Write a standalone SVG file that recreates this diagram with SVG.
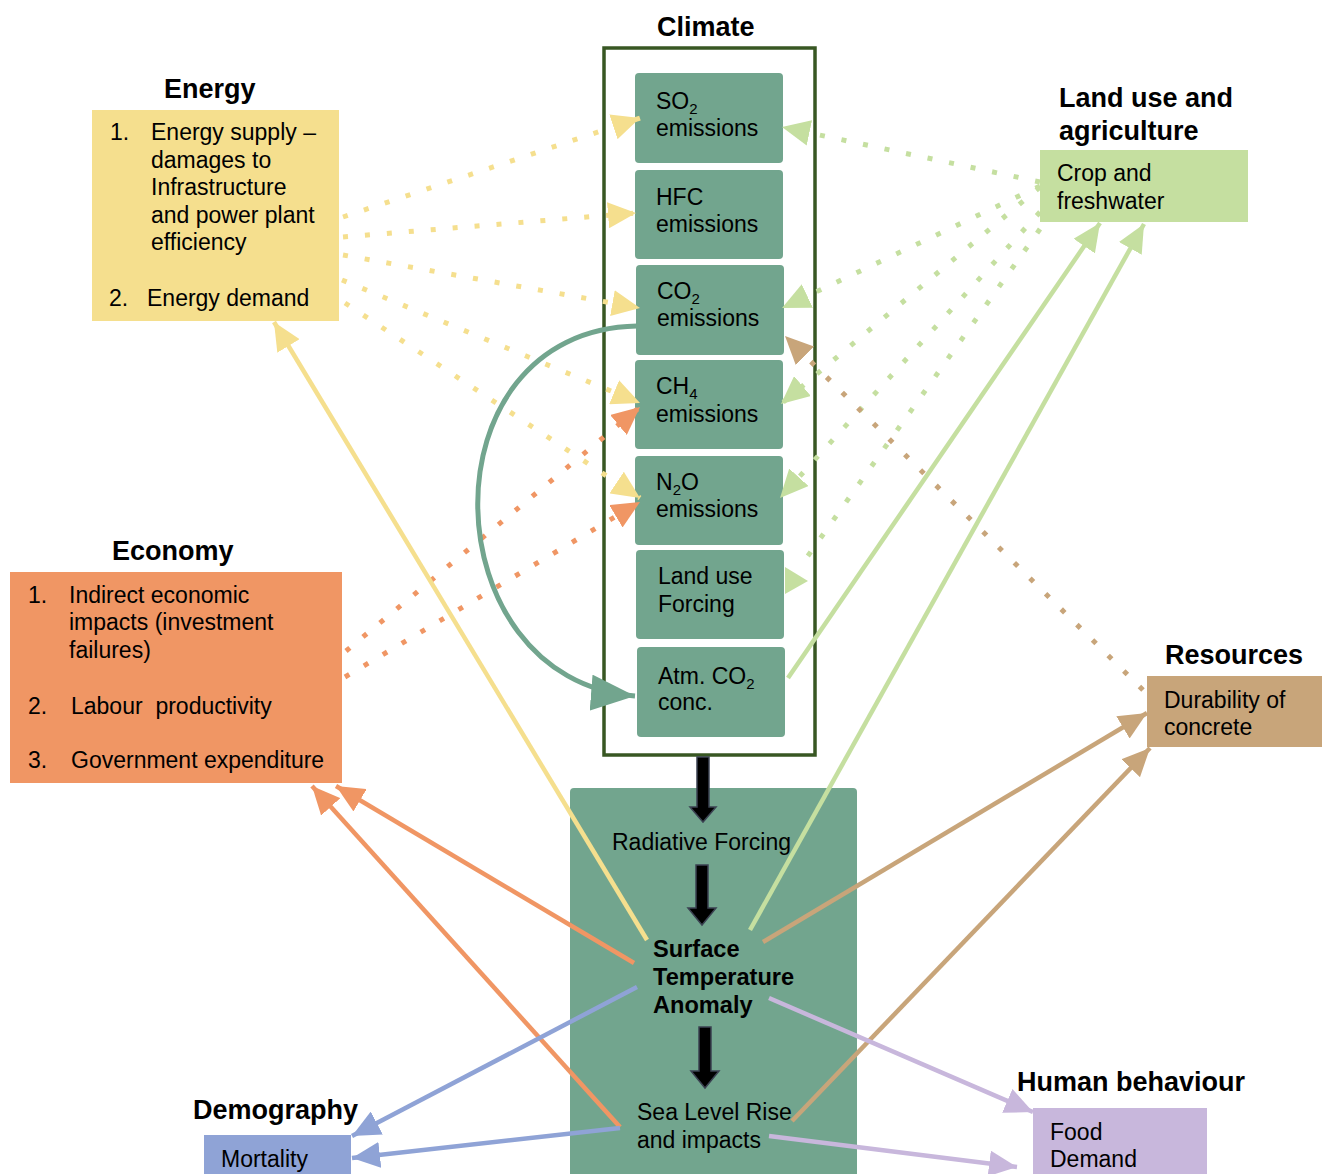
<svg xmlns="http://www.w3.org/2000/svg" width="1322" height="1174" viewBox="0 0 1322 1174">
<style>
text{font-family:"Liberation Sans",Arial,sans-serif;fill:#000}
.t{font-size:27px;font-weight:bold}
.b{font-size:23px}
.bb{font-size:23.6px;font-weight:bold}
.sub{font-size:15px}
.em{fill:#72a58e}
.dot{fill:none;stroke-width:5;stroke-dasharray:5 17}
.sol{fill:none;stroke-width:4.5}
.y{stroke:#f5df8e}.o{stroke:#f09664}.g{stroke:#c5dfa0}.br{stroke:#c8a57a}.bl{stroke:#8fa3d6}.p{stroke:#c8b7dc}
.blk{fill:#000;stroke:#3b4252;stroke-width:1.5}
</style>
<defs>
<marker id="dy" markerUnits="userSpaceOnUse" markerWidth="28" markerHeight="26" refX="28" refY="13" orient="auto"><path d="M0,0 L28,13 L0,26 z" fill="#f5df8e"/></marker>
<marker id="do" markerUnits="userSpaceOnUse" markerWidth="28" markerHeight="26" refX="28" refY="13" orient="auto"><path d="M0,0 L28,13 L0,26 z" fill="#f09664"/></marker>
<marker id="dg" markerUnits="userSpaceOnUse" markerWidth="28" markerHeight="26" refX="28" refY="13" orient="auto"><path d="M0,0 L28,13 L0,26 z" fill="#c5dfa0"/></marker>
<marker id="dbr" markerUnits="userSpaceOnUse" markerWidth="28" markerHeight="26" refX="28" refY="13" orient="auto"><path d="M0,0 L28,13 L0,26 z" fill="#c8a57a"/></marker>
<marker id="sy" markerUnits="userSpaceOnUse" markerWidth="28" markerHeight="26" refX="28" refY="13" orient="auto"><path d="M0,0 L28,13 L0,26 z" fill="#f5df8e"/></marker>
<marker id="sg" markerUnits="userSpaceOnUse" markerWidth="28" markerHeight="26" refX="28" refY="13" orient="auto"><path d="M0,0 L28,13 L0,26 z" fill="#c5dfa0"/></marker>
<marker id="so" markerUnits="userSpaceOnUse" markerWidth="28" markerHeight="26" refX="28" refY="13" orient="auto"><path d="M0,0 L28,13 L0,26 z" fill="#f09664"/></marker>
<marker id="sbr" markerUnits="userSpaceOnUse" markerWidth="28" markerHeight="26" refX="28" refY="13" orient="auto"><path d="M0,0 L28,13 L0,26 z" fill="#c8a57a"/></marker>
<marker id="sbl" markerUnits="userSpaceOnUse" markerWidth="28" markerHeight="26" refX="28" refY="13" orient="auto"><path d="M0,0 L28,13 L0,26 z" fill="#8fa3d6"/></marker>
<marker id="sp" markerUnits="userSpaceOnUse" markerWidth="28" markerHeight="26" refX="28" refY="13" orient="auto"><path d="M0,0 L28,13 L0,26 z" fill="#c8b7dc"/></marker>
<marker id="mt" markerUnits="userSpaceOnUse" markerWidth="44" markerHeight="36" refX="44" refY="18" orient="auto"><path d="M0,0 L44,18 L0,36 z" fill="#72a58e"/></marker>
</defs>
<rect width="1322" height="1174" fill="#fff"/>

<g id="climate">
<text class="t" x="657" y="36">Climate</text>
<rect x="604" y="48" width="211" height="707" fill="none" stroke="#385723" stroke-width="3.5"/>
</g>
<g id="so2"><rect class="em" x="635" y="73" width="148" height="90" rx="4"/><text class="b" x="656" y="109">SO<tspan class="sub" dy="5">2</tspan></text><text class="b" x="656" y="136">emissions</text></g>
<g id="hfc"><rect class="em" x="635" y="170" width="148" height="89" rx="4"/><text class="b" x="656" y="205">HFC</text><text class="b" x="656" y="232">emissions</text></g>
<g id="co2"><rect class="em" x="636" y="265" width="148" height="90" rx="4"/><text class="b" x="657" y="299">CO<tspan class="sub" dy="5">2</tspan></text><text class="b" x="657" y="326">emissions</text></g>
<g id="ch4"><rect class="em" x="635" y="360" width="148" height="89" rx="4"/><text class="b" x="656" y="394">CH<tspan class="sub" dy="5">4</tspan></text><text class="b" x="656" y="422">emissions</text></g>
<g id="n2o"><rect class="em" x="635" y="456" width="148" height="89" rx="4"/><text class="b" x="656" y="490">N<tspan class="sub" dy="5">2</tspan><tspan dy="-5">O</tspan></text><text class="b" x="656" y="517">emissions</text></g>
<g id="landuse"><rect class="em" x="636" y="550" width="148" height="89" rx="4"/><text class="b" x="658" y="584">Land use</text><text class="b" x="658" y="612">Forcing</text></g>
<g id="atmco2"><rect class="em" x="637" y="647" width="148" height="90" rx="4"/><text class="b" x="658" y="684">Atm. CO<tspan class="sub" dy="5">2</tspan></text><text class="b" x="658" y="710">conc.</text></g>

<g id="energy">
<text class="t" x="164" y="98">Energy</text>
<rect x="92" y="110" width="247" height="211" fill="#f5df8e"/>
<text class="b" x="110" y="140">1.</text>
<text class="b" x="151" y="140">Energy supply –</text>
<text class="b" x="151" y="168">damages to</text>
<text class="b" x="151" y="195">Infrastructure</text>
<text class="b" x="151" y="223">and power plant</text>
<text class="b" x="151" y="250">efficiency</text>
<text class="b" x="109" y="306">2.</text>
<text class="b" x="147" y="306">Energy demand</text>
</g>

<g id="landagri">
<text class="t" x="1059" y="107">Land use and</text>
<text class="t" x="1059" y="140">agriculture</text>
<rect x="1040" y="150" width="208" height="72" fill="#c5dfa0"/>
<text class="b" x="1057" y="181">Crop and</text>
<text class="b" x="1057" y="209">freshwater</text>
</g>

<g id="economy">
<text class="t" x="112" y="560">Economy</text>
<rect x="10" y="572" width="332" height="211" fill="#f09664"/>
<text class="b" x="28" y="603">1.</text>
<text class="b" x="69" y="603">Indirect economic</text>
<text class="b" x="69" y="630">impacts (investment</text>
<text class="b" x="69" y="658">failures)</text>
<text class="b" x="28" y="714">2.</text>
<text class="b" x="71" y="714" xml:space="preserve" style="white-space:pre">Labour  productivity</text>
<text class="b" x="28" y="768">3.</text>
<text class="b" x="71" y="768">Government expenditure</text>
</g>

<g id="resources">
<text class="t" x="1165" y="664">Resources</text>
<rect x="1147" y="676" width="175" height="71" fill="#c8a57a"/>
<text class="b" x="1164" y="708">Durability of</text>
<text class="b" x="1164" y="735">concrete</text>
</g>

<g id="core">
<rect class="em" x="570" y="788" width="287" height="400" rx="4"/>
<text class="b" x="612" y="850">Radiative Forcing</text>
<text class="bb" x="653" y="957">Surface</text>
<text class="bb" x="653" y="985">Temperature</text>
<text class="bb" x="653" y="1013">Anomaly</text>
<text class="b" x="637" y="1120">Sea Level Rise</text>
<text class="b" x="637" y="1148">and impacts</text>
</g>

<g id="demography">
<text class="t" x="193" y="1119">Demography</text>
<rect x="204" y="1135" width="147" height="45" fill="#8fa3d6"/>
<text class="b" x="221" y="1167">Mortality</text>
</g>

<g id="human">
<text class="t" x="1017" y="1091">Human behaviour</text>
<rect x="1033" y="1108" width="174" height="70" fill="#c8b7dc"/>
<text class="b" x="1050" y="1140">Food</text>
<text class="b" x="1050" y="1167">Demand</text>
</g>

<g id="connectors">
<line class="dot y" x1="343" y1="217" x2="640" y2="118" marker-end="url(#dy)"/>
<line class="dot y" x1="343" y1="237" x2="636" y2="213" marker-end="url(#dy)"/>
<line class="dot y" x1="343" y1="255" x2="640" y2="308" marker-end="url(#dy)"/>
<line class="dot y" x1="342" y1="280" x2="640" y2="403" marker-end="url(#dy)"/>
<line class="dot y" x1="345" y1="303" x2="640" y2="498" marker-end="url(#dy)"/>
<line class="dot o" x1="346" y1="651" x2="640" y2="407" marker-end="url(#do)"/>
<line class="dot o" x1="345" y1="677" x2="640" y2="502" marker-end="url(#do)"/>
<line class="dot g" x1="1040" y1="182" x2="782" y2="127" marker-end="url(#dg)"/>
<line class="dot g" x1="1040" y1="186" x2="782" y2="308" marker-end="url(#dg)"/>
<line class="dot g" x1="1040" y1="187" x2="781" y2="404" marker-end="url(#dg)"/>
<line class="dot g" x1="1040" y1="212" x2="780" y2="498" marker-end="url(#dg)"/>
<line class="dot g" x1="1040" y1="229" x2="800" y2="567"/>
<polygon points="785,567 808,581 785,594" fill="#c5dfa0"/>
<line class="dot br" x1="1143" y1="690" x2="785" y2="336" marker-end="url(#dbr)"/>
<path d="M637,326 C420,330 430,680 635,696" fill="none" stroke="#72a58e" stroke-width="5" marker-end="url(#mt)"/>
<polygon class="blk" points="697,757 709,757 709,807 716,807 703,822 690,807 697,807"/>
<polygon class="blk" points="696,865 708,865 708,908 716,908 702,925 688,908 696,908"/>
<polygon class="blk" points="699,1027 711,1027 711,1071 719,1071 705,1088 691,1071 699,1071"/>
<line class="sol y" x1="647" y1="940" x2="274" y2="322" marker-end="url(#sy)"/>
<line class="sol g" x1="788" y1="678" x2="1100" y2="223" marker-end="url(#sg)"/>
<line class="sol g" x1="750" y1="930" x2="1144" y2="224" marker-end="url(#sg)"/>
<line class="sol o" x1="634" y1="963" x2="336" y2="786" marker-end="url(#so)"/>
<line class="sol o" x1="620" y1="1127" x2="312" y2="786" marker-end="url(#so)"/>
<line class="sol br" x1="763" y1="942" x2="1147" y2="713" marker-end="url(#sbr)"/>
<line class="sol br" x1="792" y1="1121" x2="1150" y2="748" marker-end="url(#sbr)"/>
<line class="sol bl" x1="637" y1="987" x2="352" y2="1136" marker-end="url(#sbl)"/>
<line class="sol bl" x1="620" y1="1128" x2="352" y2="1158" marker-end="url(#sbl)"/>
<line class="sol p" x1="769" y1="998" x2="1033" y2="1112" marker-end="url(#sp)"/>
<line class="sol p" x1="769" y1="1136" x2="1017" y2="1167" marker-end="url(#sp)"/>
</g>
</svg>
